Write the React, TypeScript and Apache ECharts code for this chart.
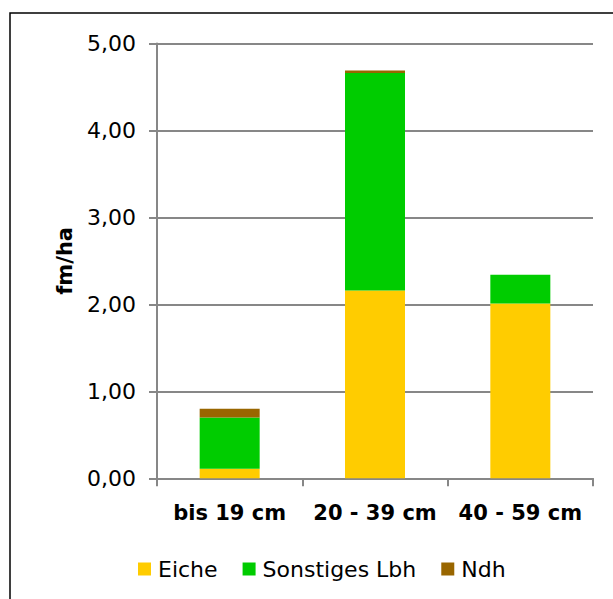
import React, { useEffect, useRef } from "react";
import * as echarts from "echarts";

const categories = ["bis 19 cm", "20 - 39 cm", "40 - 59 cm"];
const eiche = [0.11, 2.16, 2.01];
const sonstigesLbh = [0.59, 2.5, 0.33];
const ndh = [0.1, 0.03, 0.0];
const yTicks = { min: 0, max: 5, interval: 1 };

const FONT = "DejaVu Sans";
const GRAY = "#878787";

export default function App() {
  const ref = useRef<HTMLDivElement>(null);
  useEffect(() => {
    if (!ref.current) return;
    const chart = echarts.init(ref.current, undefined, { renderer: "svg" });
    chart.setOption({
      animation: false,
      backgroundColor: "#ffffff",
      textStyle: { fontFamily: FONT },
      graphic: [
        {
          type: "rect",
          shape: { x: 10, y: 13, width: 700, height: 700 },
          style: { fill: "none", stroke: "#000", lineWidth: 1.5 },
          silent: true,
        },
      ],
      grid: { left: 157, right: 20, top: 43.5, bottom: 120.7, containLabel: false },
      legend: {
        left: 133,
        top: 553,
        icon: "rect",
        itemWidth: 13,
        itemHeight: 13,
        itemGap: 25,
        textStyle: { fontFamily: FONT, fontSize: 22, color: "#000", padding: [0, 0, 0, 2] },
        data: ["Eiche", "Sonstiges Lbh", "Ndh"],
      },
      xAxis: {
        type: "category",
        data: categories,
        axisLine: { lineStyle: { color: GRAY, width: 2 } },
        axisTick: { show: true, length: 8, alignWithLabel: false, lineStyle: { color: GRAY, width: 2 } },
        axisLabel: {
          interval: 0,
          hideOverlap: false,
          fontFamily: FONT,
          fontSize: 21,
          fontWeight: "bold",
          color: "#000",
          margin: 24,
        },
      },
      yAxis: {
        type: "value",
        min: yTicks.min,
        max: yTicks.max,
        interval: yTicks.interval,
        name: "fm/ha",
        nameLocation: "middle",
        nameGap: 82,
        nameRotate: 90,
        nameTextStyle: { fontFamily: FONT, fontSize: 21, fontWeight: "bold", color: "#000" },
        axisLine: { show: true, lineStyle: { color: GRAY, width: 2 } },
        axisTick: { show: true, length: 8, lineStyle: { color: GRAY, width: 2 } },
        splitLine: { show: true, lineStyle: { color: GRAY, width: 2 } },
        axisLabel: {
          fontFamily: FONT,
          fontSize: 22,
          color: "#000",
          margin: 21,
          formatter: (v: number) => v.toFixed(2).replace(".", ","),
        },
      },
      series: [
        { name: "Eiche", type: "bar", stack: "t", data: eiche, barWidth: 60, itemStyle: { color: "#FFCC00" } },
        { name: "Sonstiges Lbh", type: "bar", stack: "t", data: sonstigesLbh, barWidth: 60, itemStyle: { color: "#00CC00" } },
        { name: "Ndh", type: "bar", stack: "t", data: ndh, barWidth: 60, itemStyle: { color: "#996600" } },
      ],
    });
    return () => chart.dispose();
  }, []);
  return (
    <div
      ref={ref}
      style={{ position: "absolute", left: 0, top: 0, width: 613, height: 599 }}
    />
  );
}
